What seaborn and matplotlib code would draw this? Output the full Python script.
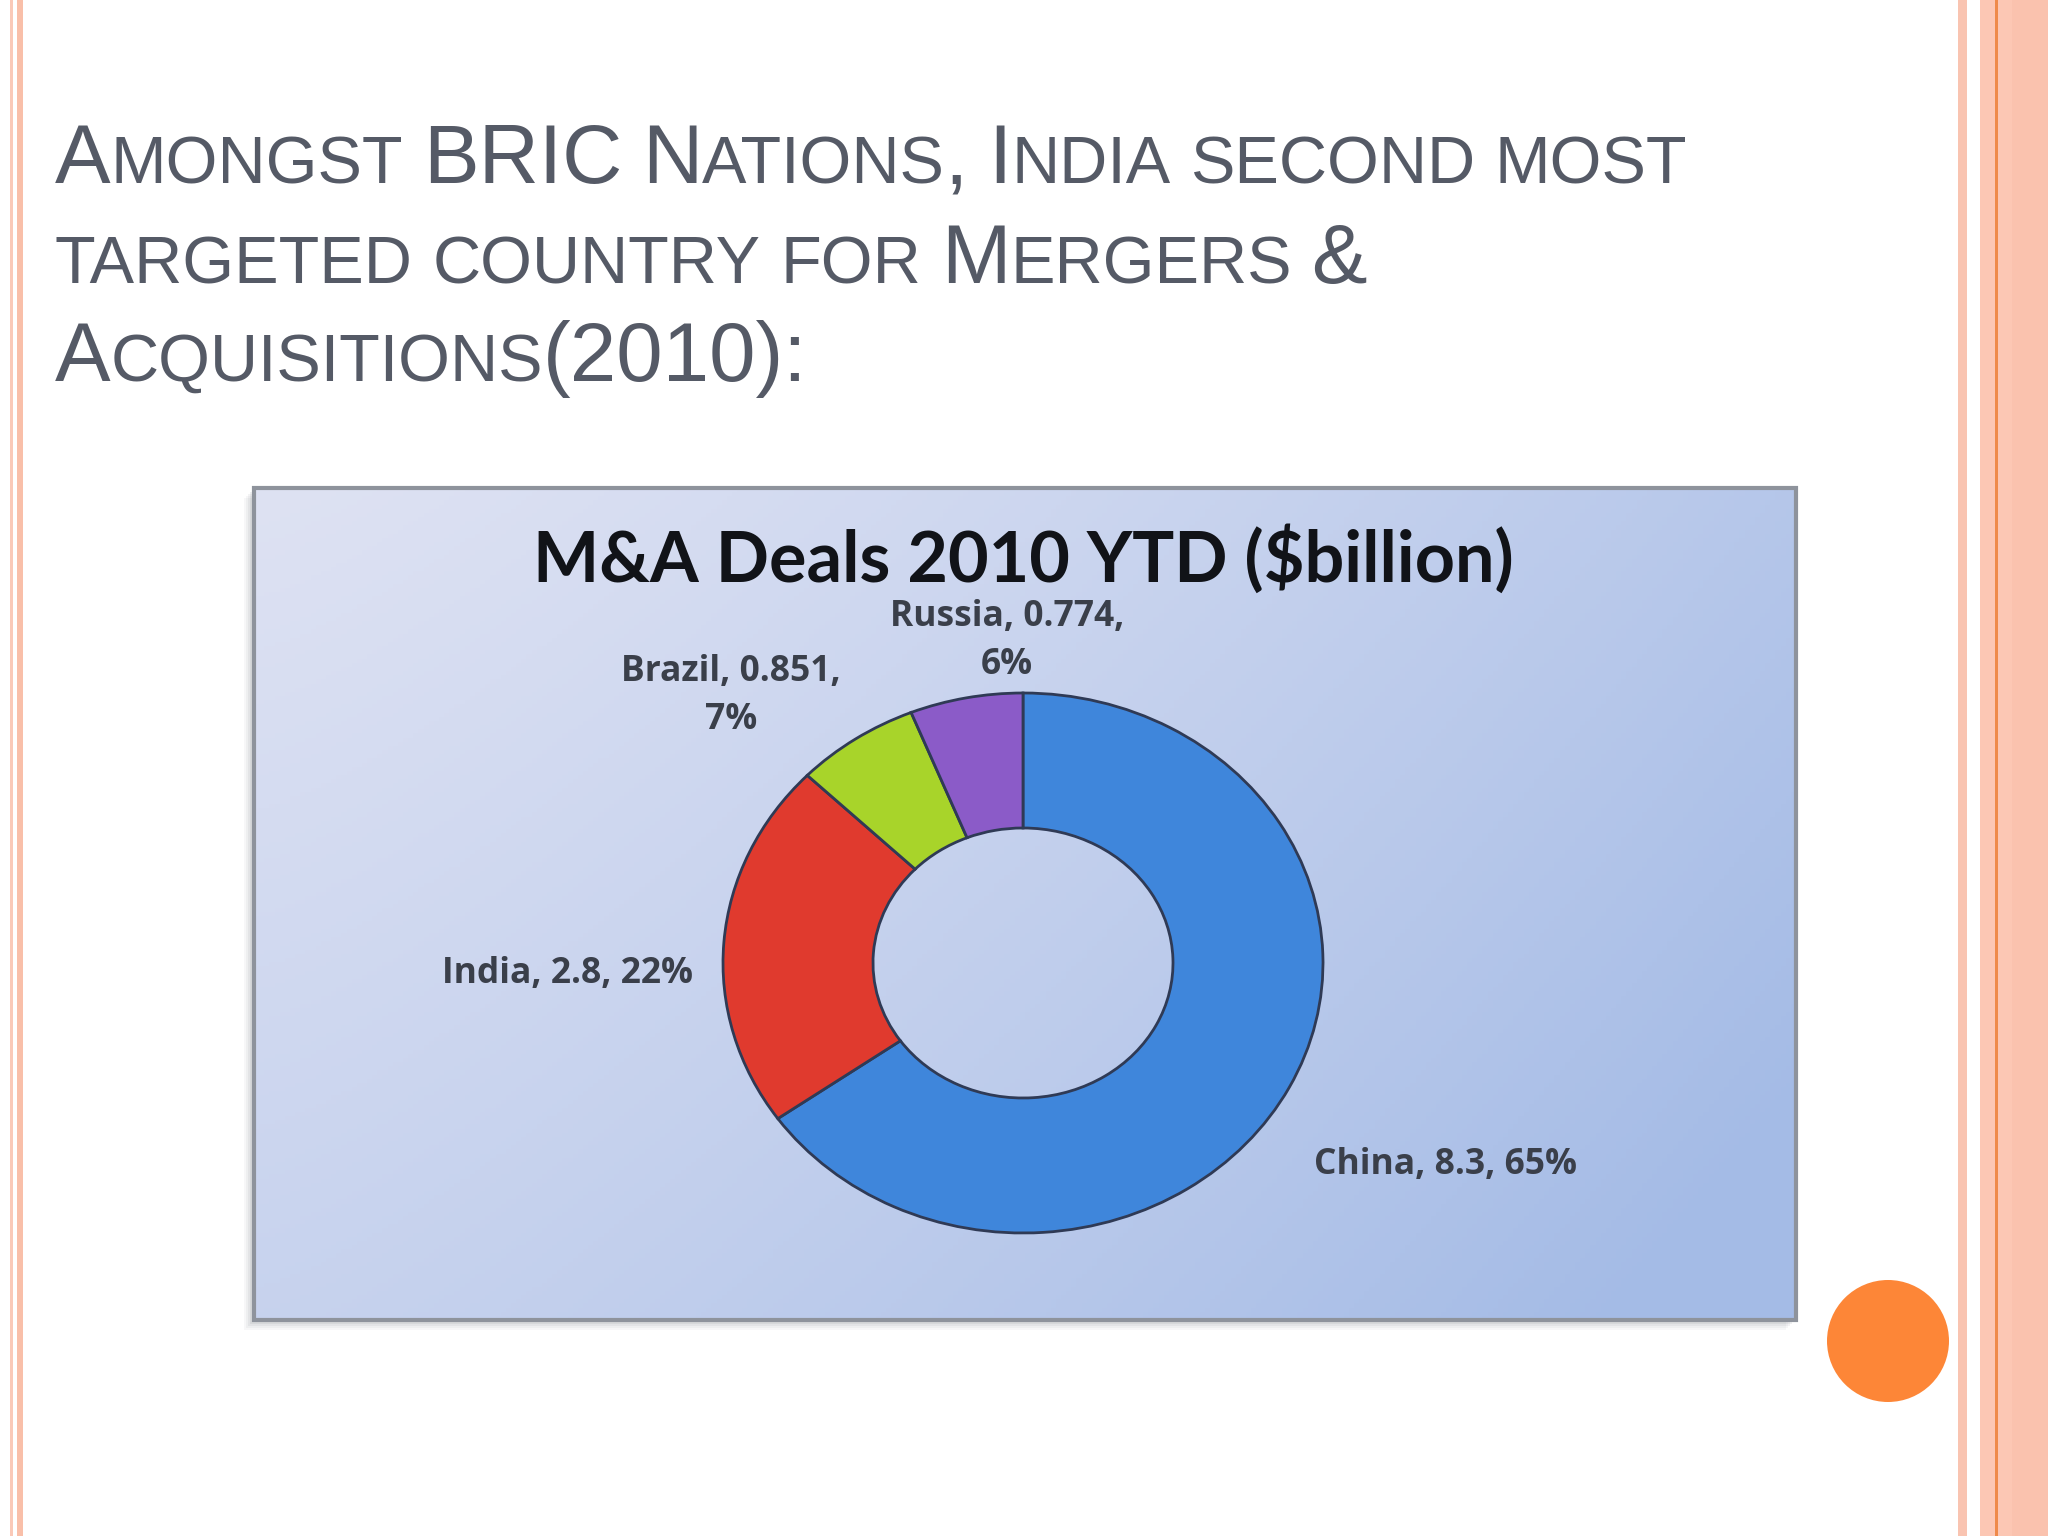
import numpy as np
import matplotlib
matplotlib.use("Agg")
import matplotlib.pyplot as plt
from matplotlib.patches import Rectangle, Circle
import seaborn as sns

# 数据
countries = ["China", "India", "Brazil", "Russia"]
deals = [8.3, 2.8, 0.851, 0.774]
pct_labels = ["65%", "22%", "7%", "6%"]
slice_colors = ["#3F86DB", "#E03A2E", "#A8D42A", "#8B5BC8"]

slide_title = ["Amongst BRIC Nations, India second most",
               "targeted country for Mergers &",
               "Acquisitions(2010):"]
chart_title = "M&A Deals 2010 YTD ($billion)"

sns.set_theme(style="white")
plt.rcParams['font.family'] = ['Liberation Sans', 'DejaVu Sans']

W, H = 2048, 1536
fig = plt.figure(figsize=(W / 100, H / 100), dpi=100)
fig.patch.set_facecolor("white")

# 背景坐标轴(像素坐标)
bg = fig.add_axes([0, 0, 1, 1])
bg.set_xlim(0, W)
bg.set_ylim(H, 0)
bg.axis("off")

# 左右装饰条
bg.add_patch(Rectangle((10, 0), 3, H, color="#FAC9B8", lw=0))
bg.add_patch(Rectangle((17, 0), 6, H, color="#F9BFA9", lw=0))
bg.add_patch(Rectangle((1958, 0), 9, H, color="#F9C4B1", lw=0))
bg.add_patch(Rectangle((1980, 0), 68, H, color="#FCC7B4", lw=0))
bg.add_patch(Rectangle((2012, 0), 36, H, color="#FAC2AE", lw=0))
bg.add_patch(Rectangle((1995, 0), 2.5, H, color="#EF8A4A", lw=0))
bg.add_patch(Circle((1888, 1341), 61, color="#FD8637", lw=0))

# 幻灯片标题(小型大写字母)
renderer = fig.canvas.get_renderer()
big_fs, small_fs = 60, 48
title_color = "#555A66"


def text_width(s, fs):
    t = bg.text(0, 0, s, fontsize=fs)
    w = t.get_window_extent(renderer).width
    t.remove()
    return w


space_w = text_width("x x", big_fs) - text_width("xx", big_fs)


def draw_small_caps(line, x, y):
    runs = []
    for ch in line:
        if ch == " ":
            kind = "space"
        elif ch.islower():
            kind = "small"
        else:
            kind = "big"
        if runs and runs[-1][0] == kind:
            runs[-1][1] += ch
        else:
            runs.append([kind, ch])
    for kind, s in runs:
        if kind == "space":
            x += space_w * len(s) * 0.85
            continue
        fs = big_fs if kind == "big" else small_fs
        t = bg.text(x, y, s.upper(), fontsize=fs, color=title_color,
                    va="baseline", ha="left")
        x += t.get_window_extent(renderer).width


for line, yb in zip(slide_title, [183, 283, 381]):
    draw_small_caps(line, 55, yb)

# 图表框及阴影
bx0, by0, bx1, by1 = 254, 488, 1796, 1320
for i, a in enumerate([0.05, 0.06, 0.08, 0.1]):
    off = 10 - i * 2
    bg.add_patch(Rectangle((bx0 - off, by0 + off), bx1 - bx0, by1 - by0,
                           color="#6b6f78", alpha=a, lw=0))
gx = np.linspace(0, 1, 300)
gy = np.linspace(0, 1, 200)
GX, GY = np.meshgrid(gx, gy)
t_grad = np.clip(0.7 * GX ** 1.3 + 0.4 * GY, 0, 1)
c0 = np.array([0xDE, 0xE2, 0xF3]) / 255
c1 = np.array([0xA4, 0xBB, 0xE6]) / 255
img = c0[None, None, :] * (1 - t_grad[..., None]) + c1[None, None, :] * t_grad[..., None]
bg.imshow(img, extent=(bx0, bx1, by1, by0), aspect="auto", zorder=1)
bg.add_patch(Rectangle((bx0, by0), bx1 - bx0, by1 - by0, fill=False,
                       ec="#8E939C", lw=3, zorder=2))

bg.text((bx0 + bx1) / 2 - 2, 582, chart_title, fontsize=50.5, fontweight="bold",
        family=["Lato", "DejaVu Sans"], color="#111318", ha="center",
        va="baseline", zorder=3)

# 环形图(椭圆形)
cx, cy, rx, ry = 1023, 963, 300, 270
ax = fig.add_axes([(cx - 1.25 * rx) / W, (H - cy - 1.25 * ry) / H,
                   2.5 * rx / W, 2.5 * ry / H])
wedges, _ = ax.pie(deals, colors=sns.color_palette(slice_colors),
                   startangle=90, counterclock=False,
                   wedgeprops=dict(width=0.5, edgecolor="#2f3a55", linewidth=2))
ax.set_aspect("auto")
ax.set_xlim(-1.25, 1.25)
ax.set_ylim(-1.25, 1.25)
ax.set_facecolor("none")
ax.patch.set_alpha(0)

# 数据标签
label_font = dict(fontsize=25.5, color="#3a3f4a", family=["Open Sans", "DejaVu Sans"],
                  fontweight="bold", zorder=3)
label_pos = {"China": (1314, 1165, "left"), "India": (568, 974, "center"),
             "Brazil": (731, 696, "center"), "Russia": (1007, 641, "center")}
for name, val, pct in zip(countries, deals, pct_labels):
    x, y, ha = label_pos[name]
    if name in ("Brazil", "Russia"):
        txt = f"{name}, {val},\n{pct}"
    else:
        txt = f"{name}, {val}, {pct}"
    bg.text(x, y, txt, ha=ha, va="center", multialignment="center",
            linespacing=1.45, **label_font)

fig.savefig("out.png", dpi=100)
